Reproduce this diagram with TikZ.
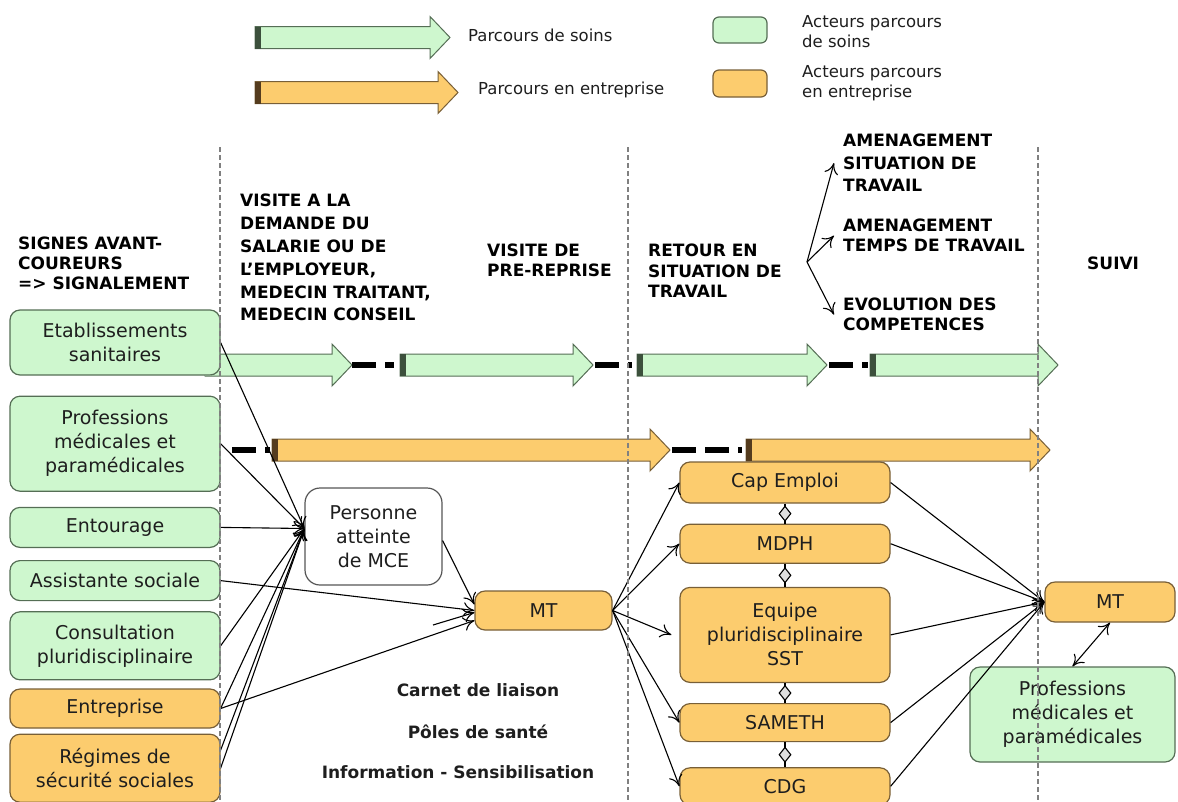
\documentclass[tikz,border=0pt]{standalone}
\usepackage{fontspec}
\setmainfont{DejaVu Sans}
\usepackage{tikz}
\usetikzlibrary{positioning, arrows.meta, shapes.geometric}

\definecolor{soinfill}{RGB}{206,247,206}
\definecolor{soinline}{RGB}{85,110,85}
\definecolor{soinbar}{RGB}{60,80,60}
\definecolor{entfill}{RGB}{252,204,110}
\definecolor{entline}{RGB}{120,95,55}
\definecolor{entbar}{RGB}{85,60,30}
\definecolor{txt}{RGB}{30,30,30}

\newcommand{\parcours}[5]{%
  \draw[#1] (#3,#5-11) -- (#4-20,#5-11) -- (#4-20,#5-21) -- (#4,#5) -- (#4-20,#5+21) -- (#4-20,#5+11) -- (#3,#5+11) -- cycle;
  \fill[#2] (#3,#5-11) rectangle (#3+6,#5+11);}

\begin{document}
\begin{tikzpicture}[x=1pt, y=-1pt,
    actor/.style={draw, rounded corners=10pt, line width=1.2pt, align=center, text=txt,
      font=\fontsize{19}{24}\selectfont, inner sep=2pt, minimum width=210pt, minimum height=40pt},
    soin/.style={actor, draw=soinline, fill=soinfill},
    entr/.style={actor, draw=entline, fill=entfill},
    phase/.style={anchor=north west, align=left, inner sep=0pt, text=black,
      font=\bfseries\fontsize{17}{20}\selectfont},
    note/.style={inner sep=0pt, text=txt, font=\bfseries\fontsize{17}{21}\selectfont},
    legtext/.style={anchor=west, inner sep=0pt, text=txt, font=\fontsize{16.5}{20}\selectfont},
    link/.style={-{To[length=11pt,width=14pt]}, line width=1.1pt},
    twoway/.style={{To[length=11pt,width=14pt]}-{To[length=11pt,width=14pt]}, line width=1.1pt},
    pair/.style={line width=1.1pt},
    gem/.style={diamond, draw, fill=gray!25, line width=1.1pt, inner sep=0pt, minimum width=12pt, minimum height=15pt},
    gapdash/.style={line width=6pt, dash pattern=on 24pt off 9pt},
    divider/.style={gray, line width=1.2pt, dash pattern=on 5pt off 3pt},
    soinarrow/.style={draw=soinline, fill=soinfill, line width=1pt},
    entarrow/.style={draw=entline, fill=entfill, line width=1pt}]
  \useasboundingbox (0,0) rectangle (1178,801);

  \parcours{soinarrow}{soinbar}{255}{450}{37.5}
  \parcours{entarrow}{entbar}{255}{458}{92.5}
  \node[soin, minimum width=54pt, minimum height=26pt, rounded corners=6pt] (lgsoin) at (740,30) {};
  \node[entr, minimum width=54pt, minimum height=27pt, rounded corners=6pt] (lgent) at (740,83.5) {};
  \node[legtext] (lgsoinarrow) at (468,35) {Parcours de soins};
  \node[legtext] (lgentarrow) at (478,90) {Parcours en entreprise};
  \node[legtext, anchor=north west, align=left] (lgsointxt) at (802,15) {Acteurs parcours\\de soins};
  \node[legtext, anchor=north west, align=left] (lgenttxt) at (802,65) {Acteurs parcours\\en entreprise};

  \node[phase] (signes) at (18,237) {SIGNES AVANT-\\COUREURS\\=> SIGNALEMENT};
  \node[phase, font=\bfseries\fontsize{17}{22.8}\selectfont] (visite) at (240,194)
    {VISITE A LA\\DEMANDE DU\\SALARIE OU DE\\L'EMPLOYEUR,\\MEDECIN TRAITANT,\\MEDECIN CONSEIL};
  \node[phase] (prerep) at (487,244) {VISITE DE\\PRE-REPRISE};
  \node[phase, font=\bfseries\fontsize{17}{20.5}\selectfont] (retour) at (648,244) {RETOUR EN\\SITUATION DE\\TRAVAIL};
  \node[phase, font=\bfseries\fontsize{17}{22.5}\selectfont] (amen1) at (843,134) {AMENAGEMENT\\SITUATION DE\\TRAVAIL};
  \node[phase] (amen2) at (843,219) {AMENAGEMENT\\TEMPS DE TRAVAIL};
  \node[phase] (evol) at (843,298) {EVOLUTION DES\\COMPETENCES};
  \node[phase] (suivi) at (1087,257) {SUIVI};
  \coordinate (fork) at (807,262);
  \draw[link] (fork) -- ([xshift=-9pt]amen1.west);
  \draw[link] (fork) -- ([xshift=-9pt]amen2.west);
  \draw[link] (fork) -- ([xshift=-9pt]evol.west);

  \parcours{soinarrow}{soinfill}{205}{352}{365}
  \parcours{soinarrow}{soinbar}{400}{593}{365}
  \parcours{soinarrow}{soinbar}{637}{827}{365}
  \parcours{soinarrow}{soinbar}{870}{1058}{365}
  \parcours{entarrow}{entbar}{272}{670}{450}
  \parcours{entarrow}{entbar}{746}{1050}{450}
  \draw[gapdash] (352,365) -- (394,365);
  \draw[gapdash] (595,365) -- (632,365);
  \draw[gapdash] (829,365) -- (868,365);
  \draw[gapdash] (232,450) -- (270,450);
  \draw[gapdash] (672,450) -- (742,450);

  \node[soin, minimum height=65pt] (etab) at (115,342.5) {Etablissements\\sanitaires};
  \node[soin, minimum height=95pt, below=20pt of etab] (prof) {Professions\\médicales et\\paramédicales};
  \node[soin, below=15pt of prof] (entour) {Entourage};
  \node[soin, below=12pt of entour] (assist) {Assistante sociale};
  \node[soin, minimum height=68pt, below=10pt of assist] (consult) {Consultation\\pluridisciplinaire};
  \node[entr, minimum height=39pt, below=8pt of consult] (entre) {Entreprise};
  \node[entr, minimum height=68pt, below=5pt of entre] (regimes) {Régimes de\\sécurité sociales};

  \node[actor, draw=txt!75, fill=white, rounded corners=15pt, minimum width=137pt, minimum height=97pt] (pers) at (373.5,536.5) {Personne\\atteinte\\de MCE};
  \node[entr, minimum width=137pt, minimum height=39pt] (mt) at (543.5,610.5) {MT};

  \node[entr, minimum height=41pt] (cap) at (785,482.5) {Cap Emploi};
  \node[entr, minimum height=39pt, below=20pt of cap] (mdph) {MDPH};
  \node[entr, minimum height=95pt, below=23pt of mdph] (equipe) {Equipe\\pluridisciplinaire\\SST};
  \node[entr, minimum height=38pt, below=20pt of equipe] (sameth) {SAMETH};
  \node[entr, minimum height=37pt, below=25pt of sameth] (cdg) {CDG};

  \node[entr, minimum width=130pt, minimum height=40pt] (mtr) at (1110,602) {MT};
  \node[soin, minimum width=205pt, minimum height=95pt] (profr) at (1072.5,714.5) {Professions\\médicales et\\paramédicales};

  \node[note] (carnet) at (478,690) {Carnet de liaison};
  \node[note] (poles) at (478,732) {Pôles de santé};
  \node[note] (info) at (458,772) {Information - Sensibilisation};

  \draw[link] (etab.east) -- ([yshift=8pt]pers.west);
  \draw[link] (prof.east) -- ([yshift=8pt]pers.west);
  \draw[link] (entour.east) -- ([yshift=8pt]pers.west);
  \draw[link] (consult.east) -- ([yshift=8pt]pers.west);
  \draw[link] (entre.east) -- ([yshift=8pt]pers.west);
  \draw[link] ([yshift=18pt]regimes.east) -- ([yshift=8pt]pers.west);
  \draw[link] (regimes.east) -- ([yshift=8pt]pers.west);

  \coordinate (relay) at (433,625);
  \draw[link] ([yshift=-4pt]pers.east) -- ([yshift=6pt]mt.west);
  \draw[link] (assist.east) -- (mt.west);
  \draw[link] (relay) -- ([yshift=-2pt]mt.west);
  \draw[link] (entre.east) -- ([yshift=-10pt]mt.west);

  \draw[link] (mt.east) -- (cap.west);
  \draw[link] (mt.east) -- (mdph.west);
  \draw[link] (mt.east) -- ([xshift=-8pt]equipe.west);
  \draw[link] (mt.east) -- (sameth.west);
  \draw[link] (mt.east) -- (cdg.west);

  \draw[pair] (cap.south) -- node[gem] {} (mdph.north);
  \draw[pair] (mdph.south) -- node[gem] {} (equipe.north);
  \draw[pair] (equipe.south) -- node[gem] {} (sameth.north);
  \draw[pair] (sameth.south) -- node[gem] {} (cdg.north);

  \draw[link] (cap.east) -- (mtr.west);
  \draw[link] (mdph.east) -- (mtr.west);
  \draw[link] (equipe.east) -- (mtr.west);
  \draw[link] (sameth.east) -- (mtr.west);
  \draw[link] (cdg.east) -- (mtr.west);
  \draw[twoway] (mtr.south) -- (profr.north);

  \draw[divider] (220,147) -- (220,801);
  \draw[divider] (628,147) -- (628,801);
  \draw[divider] (1038,147) -- (1038,801);
\end{tikzpicture}
\end{document}
